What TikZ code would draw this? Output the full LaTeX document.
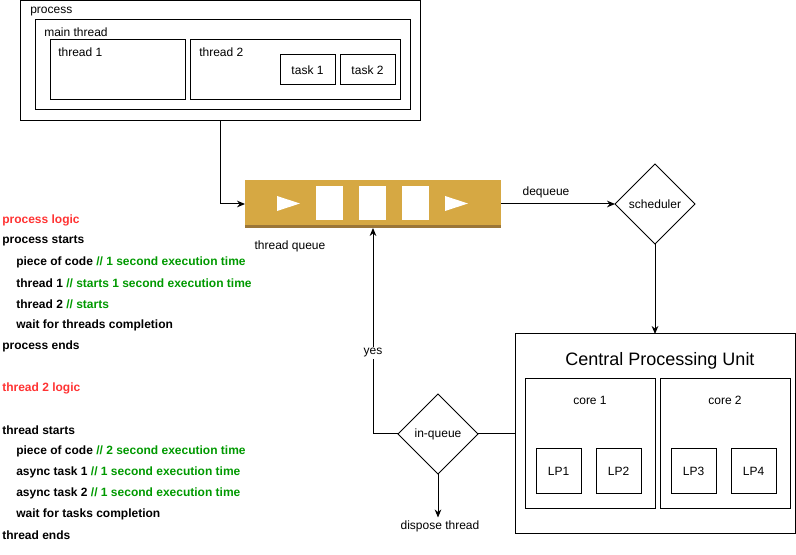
\documentclass[tikz,border=0pt]{standalone}
\usepackage{fontspec}
\setmainfont{Liberation Sans}
\usetikzlibrary{arrows.meta,shapes.geometric}
\definecolor{qgold}{RGB}{214,168,67}
\definecolor{qdark}{RGB}{155,118,56}
\definecolor{cgreen}{RGB}{0,153,0}
\definecolor{cred}{RGB}{255,51,51}
\begin{document}
\begin{tikzpicture}[x=0.75pt,y=-0.75pt,
 box/.style 2 args={draw, line width=0.75pt, minimum width=#1*0.75pt, minimum height=#2*0.75pt, inner sep=0pt, outer sep=0pt},
 lbl/.style={font=\fontsize{9}{11}\selectfont, inner sep=0pt, anchor=west, yshift=-1.5pt},
 ctr/.style={font=\fontsize{9}{11}\selectfont, inner sep=0pt, yshift=-1.5pt},
 code/.style={font=\fontsize{9}{11}\selectfont\bfseries, inner sep=0pt, anchor=west, yshift=-1.5pt},
 dia/.style={draw, diamond, aspect=1, line width=0.75pt, minimum size=60pt, inner sep=0pt, outer sep=0pt, font=\fontsize{9}{11}\selectfont},
 conn/.style={line width=0.75pt},
 arr/.style={conn, -{Stealth[length=6pt,width=5pt]}}
]
\useasboundingbox (0,0) rectangle (796,555);

% process boxes
\node[box={400}{120}] (proc) at (220,61) {};
\node[lbl] (procl) at (30,10) {process};
\node[box={375}{90}] (main) at (222.5,65) {};
\node[lbl] (mainl) at (44,30) {main thread};
\node[box={135}{60}] (th1) at (117.5,70) {};
\node[lbl] (th1l) at (58,50) {thread 1};
\node[box={210}{60}] (th2) at (295,70) {};
\node[lbl] (th2l) at (199,50) {thread 2};
\node[box={55}{30}, font=\fontsize{9}{11}\selectfont] (task1) at (307.5,70) {task 1};
\node[box={55}{30}, font=\fontsize{9}{11}\selectfont] (task2) at (367.5,70) {task 2};

% queue
\node[fill=qgold, minimum width=256*0.75pt, minimum height=48*0.75pt, inner sep=0pt, outer sep=0pt] (queue) at (373,204) {};
\fill[qdark] (245,225) rectangle (501,228);
\fill[white] (277,196) -- (300,203.5) -- (277,211) -- cycle;
\fill[white] (316,186) rectangle (343,220);
\fill[white] (359,186) rectangle (386,220);
\fill[white] (402,186) rectangle (429,220);
\fill[white] (445,196) -- (468,203.5) -- (445,211) -- cycle;
\node[ctr] (ql) at (290,244) {thread queue};

% scheduler
\node[dia] (sched) at (655,204) {scheduler};
\node[ctr] (deq) at (546,190) {dequeue};

% CPU
\node[box={280}{200}] (cpu) at (655,434) {};
\node[inner sep=0pt, font=\fontsize{13.5}{16}\selectfont, yshift=-2pt] (cpul) at (660,358) {Central Processing Unit};
\node[box={130}{130}] (core1) at (590,444) {};
\node[box={130}{130}] (core2) at (725,444) {};
\node[ctr] (c1l) at (590,398) {core 1};
\node[ctr] (c2l) at (725,398) {core 2};
\node[box={45}{45}, font=\fontsize{9}{11}\selectfont] (lp1) at (558.5,471.5) {LP1};
\node[box={45}{45}, font=\fontsize{9}{11}\selectfont] (lp2) at (618.5,471.5) {LP2};
\node[box={45}{45}, font=\fontsize{9}{11}\selectfont] (lp3) at (693.5,471.5) {LP3};
\node[box={45}{45}, font=\fontsize{9}{11}\selectfont] (lp4) at (753.5,471.5) {LP4};

% in-queue
\node[dia] (inq) at (438,434) {in-queue};
\node[ctr, inner sep=2pt] (disp) at (440,524) {dispose thread};

% connectors
\draw[arr] (proc.south) |- (queue.west);
\draw[arr] (queue.east) -- (sched.west);
\draw[arr] (sched.south) -- (cpu.north);
\draw[conn] (cpu.west) -- (inq.east);
\draw[arr] (inq.west) -| (queue.south);
\draw[arr] (inq.south) -- (inq.south |- disp.north);
\node[ctr, fill=white, inner sep=1pt] (yes) at (373,351) {yes};

% code text
\node[code, text=cred] (t1) at (2,218) {process logic};
\node[code] (t2) at (2,239) {process starts};
\node[code] (t3) at (16,260) {piece of code \textcolor{cgreen}{// 1 second execution time}};
\node[code] (t4) at (16,281) {thread 1 \textcolor{cgreen}{// starts 1 second execution time}};
\node[code] (t5) at (16,302) {thread 2 \textcolor{cgreen}{// starts}};
\node[code] (t6) at (16,323) {wait for threads completion};
\node[code] (t7) at (2,344) {process ends};
\node[code, text=cred] (t8) at (2,386) {thread 2 logic};
\node[code] (t9) at (2,428) {thread starts};
\node[code] (t10) at (16,449) {piece of code \textcolor{cgreen}{// 2 second execution time}};
\node[code] (t11) at (16,470) {async task 1 \textcolor{cgreen}{// 1 second execution time}};
\node[code] (t12) at (16,491) {async task 2 \textcolor{cgreen}{// 1 second execution time}};
\node[code] (t13) at (16,512) {wait for tasks completion};
\node[code] (t14) at (2,533) {thread ends};
\end{tikzpicture}
\end{document}
